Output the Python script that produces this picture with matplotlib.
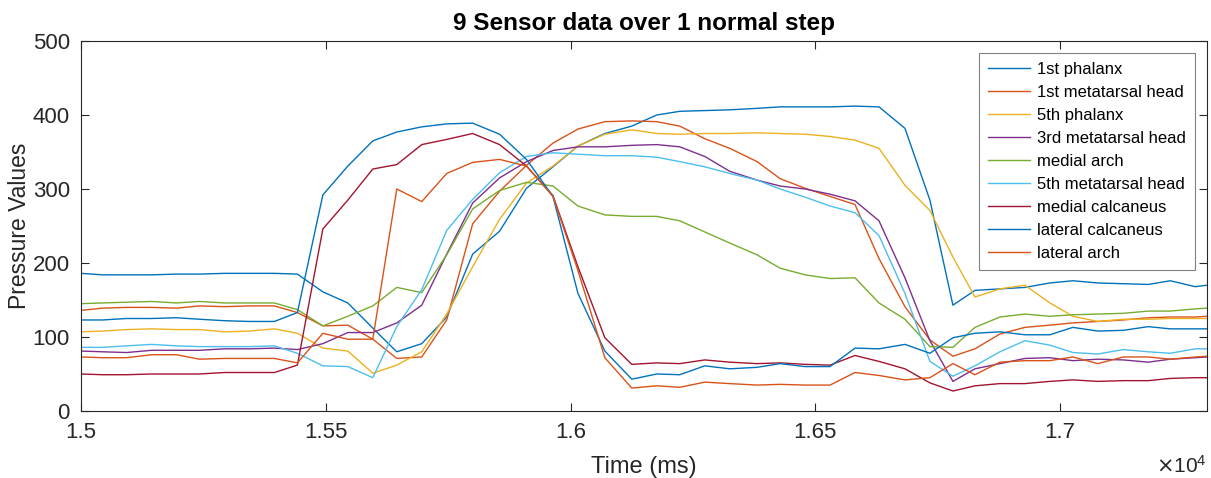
import numpy as np
import matplotlib
matplotlib.use('Agg')
import matplotlib.pyplot as plt
from matplotlib.ticker import FuncFormatter

plt.rcParams['font.family'] = ['Liberation Sans', 'DejaVu Sans']

# sample times (ms)
t = [15000, 15044, 15093, 15144, 15195, 15242, 15293, 15344, 15395, 15442,
     15494, 15545, 15596, 15645, 15696, 15747, 15800, 15855, 15910, 15964,
     16015, 16070, 16125, 16176, 16223, 16274, 16325, 16381, 16428, 16479,
     16530, 16581, 16630, 16683, 16734, 16781, 16826, 16877, 16928, 16979,
     17026, 17077, 17129, 17180, 17225, 17276, 17300]

phalanx1 = [186, 184, 184, 184, 185, 185, 186, 186, 186, 185,
            161, 146, 112, 80, 91, 127, 212, 243, 301, 330,
            358, 375, 385, 400, 405, 406, 407, 409, 411, 411,
            411, 412, 411, 382, 285, 143, 163, 165, 167, 173,
            176, 173, 172, 171, 176, 168, 170]
meta1 = [136, 139, 140, 140, 139, 142, 141, 142, 142, 133,
         115, 116, 97, 71, 73, 123, 253, 297, 332, 362,
         381, 391, 392, 391, 385, 368, 355, 337, 314, 301,
         290, 279, 206, 141, 96, 74, 84, 104, 113, 116,
         119, 121, 123, 126, 127, 127, 128]
phalanx5 = [107, 108, 110, 111, 110, 110, 107, 108, 111, 105,
            85, 81, 51, 62, 80, 131, 195, 259, 308, 331,
            358, 374, 380, 375, 374, 375, 375, 376, 375, 374,
            371, 366, 355, 305, 271, 208, 154, 165, 170, 146,
            128, 121, 124, 124, 125, 125, 125]
meta3 = [81, 80, 79, 82, 82, 82, 84, 84, 85, 83,
         91, 106, 106, 119, 143, 212, 281, 315, 337, 352,
         357, 357, 359, 360, 357, 344, 324, 312, 304, 300,
         293, 284, 257, 180, 95, 40, 57, 64, 71, 72,
         68, 70, 69, 66, 70, 72, 73]
med_arch = [145, 146, 147, 148, 146, 148, 146, 146, 146, 137,
            115, 128, 142, 167, 160, 211, 273, 298, 309, 304,
            277, 265, 263, 263, 257, 242, 227, 211, 193, 184,
            179, 180, 146, 124, 87, 86, 113, 127, 131, 128,
            130, 131, 132, 135, 135, 138, 139]
meta5 = [86, 86, 88, 90, 88, 87, 87, 87, 88, 78,
         61, 60, 45, 114, 164, 244, 286, 322, 344, 349,
         347, 345, 345, 343, 337, 330, 321, 312, 300, 289,
         277, 268, 237, 159, 67, 47, 61, 80, 95, 89,
         79, 77, 83, 80, 78, 84, 84]
med_calc = [50, 49, 49, 50, 50, 50, 52, 52, 52, 62,
            246, 285, 327, 333, 360, 367, 375, 360, 331, 291,
            195, 99, 63, 65, 64, 69, 66, 64, 65, 63,
            62, 75, 67, 57, 38, 27, 34, 37, 37, 40,
            42, 40, 41, 41, 44, 45, 45]
lat_calc = [123, 123, 125, 125, 126, 124, 122, 121, 121, 133,
            292, 331, 365, 377, 384, 388, 389, 374, 340, 290,
            159, 81, 43, 50, 49, 61, 57, 59, 64, 60,
            60, 85, 84, 90, 78, 99, 105, 107, 103, 103,
            113, 108, 109, 114, 111, 111, 111]
lat_arch = [73, 72, 72, 76, 76, 70, 71, 71, 71, 65,
            105, 97, 97, 300, 283, 321, 336, 340, 331, 290,
            190, 72, 31, 34, 32, 39, 37, 35, 36, 35,
            35, 52, 48, 42, 45, 64, 49, 66, 68, 68,
            73, 64, 73, 73, 70, 73, 74]

names = ['1st phalanx', '1st metatarsal head', '5th phalanx', '3rd metatarsal head',
         'medial arch', '5th metatarsal head', 'medial calcaneus', 'lateral calcaneus',
         'lateral arch']
series = [phalanx1, meta1, phalanx5, meta3, med_arch, meta5, med_calc, lat_calc, lat_arch]
colors = ['#0072BD', '#D95319', '#EDB120', '#7E2F8E', '#77AC30', '#4DBEEE',
          '#A2142F', '#0072BD', '#D95319']

fig = plt.figure(figsize=(12.11, 4.78), dpi=100)
ax = fig.add_axes([0.0669, 0.1402, 0.9298, 0.7740])

for s, c, n in zip(series, colors, names):
    ax.plot(t, s, color=c, lw=1.0, label=n)

ax.set_xlim(15000, 17300)
ax.set_ylim(0, 500)
ax.set_xticks([15000, 15500, 16000, 16500, 17000])
ax.set_yticks([0, 100, 200, 300, 400, 500])
ax.xaxis.set_major_formatter(FuncFormatter(lambda v, p: ('%g' % (v / 1e4))))

ax.tick_params(direction='in', top=True, right=True, length=6, width=0.8,
               labelsize=16, colors='#262626', pad=8)
for sp in ax.spines.values():
    sp.set_color('#262626')
    sp.set_linewidth(0.8)

ax.set_title('9 Sensor data over 1 normal step', fontsize=17.5, fontweight='bold',
             color='black', pad=8)
ax.set_xlabel('Time (ms)', fontsize=17, color='#262626', labelpad=9)
ax.set_ylabel('Pressure Values', fontsize=16.5, color='#262626', labelpad=1)
ax.text(1.0, -0.148, r'$\times\mathregular{10^{4}}$', transform=ax.transAxes,
        ha='right', va='center', fontsize=15, color='#262626')

leg = ax.legend(loc='upper right', fontsize=12, fancybox=False, framealpha=1,
                edgecolor='#808080', borderaxespad=0.7, handlelength=2.5,
                handletextpad=0.45, labelspacing=0.48, borderpad=0.55)
leg.get_frame().set_linewidth(0.8)

fig.savefig('out.png', dpi=100)
